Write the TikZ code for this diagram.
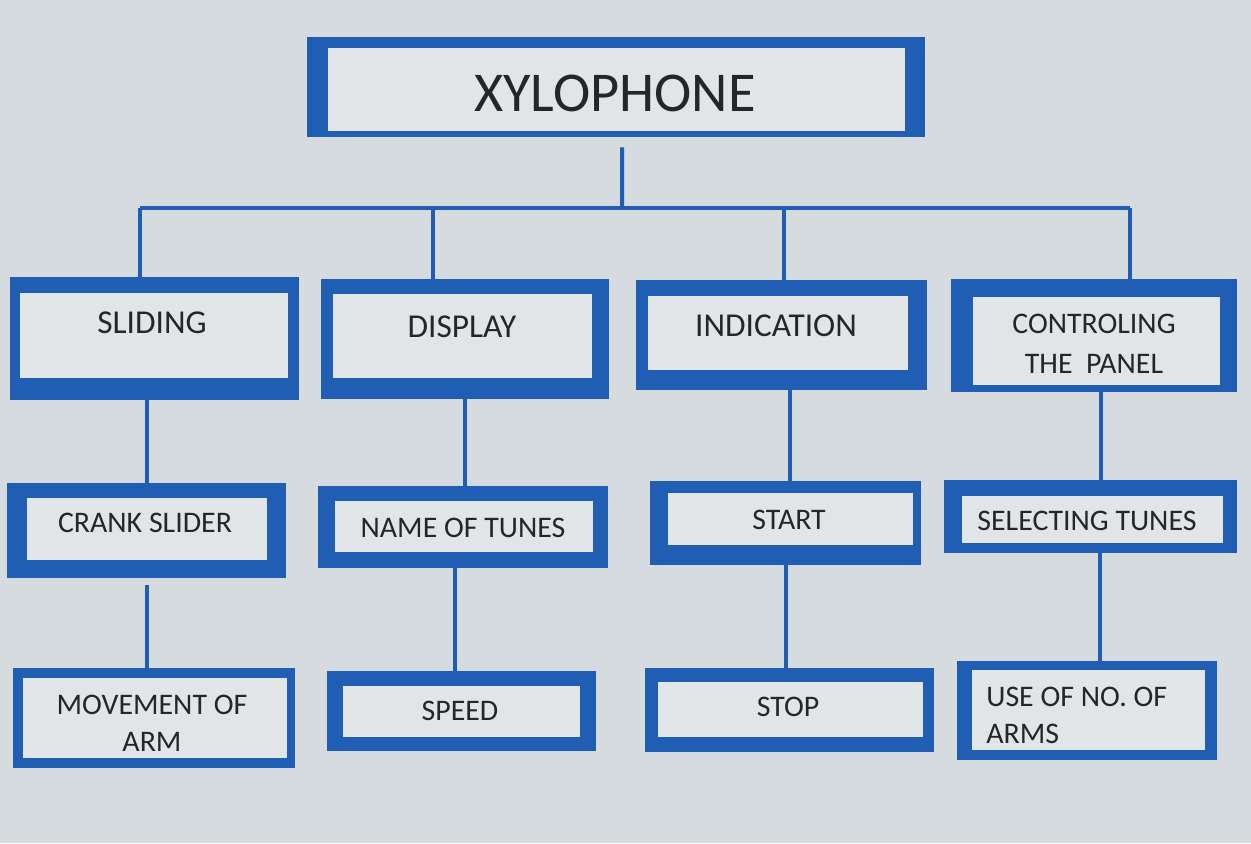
\documentclass[tikz,border=0pt]{standalone}
\usepackage{fontspec}
\setmainfont{Carlito}
\usetikzlibrary{fit}

\definecolor{boxblue}{RGB}{32,94,180}
\definecolor{screen}{RGB}{214,219,224}
\definecolor{paper}{RGB}{226,229,232}
\definecolor{ink}{RGB}{38,38,40}

\tikzset{
  outerbox/.style={fill=boxblue, inner sep=0pt},
  innerbox/.style={fill=paper, inner sep=0pt},
  lbl/.style={text=ink, inner sep=0pt, align=center},
  big/.style={font=\fontsize{19}{23}\selectfont},
  small/.style={font=\fontsize{17}{21}\selectfont},
  link/.style={draw=boxblue, line width=0.08cm},
}

% name, outer x1 y1 x2 y2, inner x1 y1 x2 y2 (pixels)
\newcommand{\chartbox}[9]{%
  \node[outerbox, fit={(#2,#3) (#4,#5)}] (#1) {};
  \node[innerbox, fit={(#6,#7) (#8,#9)}] (#1 in) {};
}

\begin{document}
\begin{tikzpicture}[x=0.02cm, y=-0.02cm]
		\fill[screen] (0,0) rectangle (1251,843);
		\useasboundingbox (0,0) rectangle (1251,843);

		% top
		\chartbox{title}{307}{37}{925}{137}{328}{48}{905}{131}
		\node[lbl, font=\fontsize{32}{37}\selectfont] (title txt) at (615,93) {XYLOPHONE};

		% first row
		\chartbox{sliding}{10}{277}{299}{400}{20}{293}{288}{378}
		\chartbox{display}{321}{279}{609}{399}{333}{294}{592}{378}
		\chartbox{indication}{636}{280}{927}{390}{648}{296}{908}{370}
		\chartbox{control}{951}{279}{1237}{392}{973}{297}{1220}{385}
		\node[lbl, big] (sliding txt) at (152,323) {SLIDING};
		\node[lbl, big] (display txt) at (462,327) {DISPLAY};
		\node[lbl, big] (indication txt) at (776,326) {INDICATION};
		\node[lbl, font=\fontsize{17}{22.7}\selectfont] (control txt) at (1094,344) {CONTROLING\\THE\ \ PANEL};

		% second row
		\chartbox{crank}{7}{483}{286}{578}{27}{498}{267}{560}
		\chartbox{tunes}{318}{486}{608}{568}{335}{501}{593}{552}
		\chartbox{start}{650}{481}{921}{565}{668}{493}{913}{545}
		\chartbox{select}{944}{480}{1237}{553}{962}{496}{1223}{543}
		\node[lbl, small] (crank txt) at (145,523) {CRANK SLIDER};
		\node[lbl, small] (tunes txt) at (463,528) {NAME OF TUNES};
		\node[lbl, small] (start txt) at (789,520) {START};
		\node[lbl, small] (select txt) at (1087,521) {SELECTING TUNES};

		% third row
		\chartbox{movement}{13}{668}{295}{768}{23}{678}{287}{758}
		\chartbox{speed}{327}{671}{596}{751}{343}{686}{580}{737}
		\chartbox{stop}{645}{668}{934}{752}{658}{682}{923}{737}
		\chartbox{arms}{957}{661}{1217}{760}{972}{670}{1205}{750}
		\node[lbl, font=\fontsize{17}{21}\selectfont] (movement txt) at (152,723.5) {MOVEMENT OF\\ARM};
		\node[lbl, small] (speed txt) at (460,711) {SPEED};
		\node[lbl, small] (stop txt) at (788,707) {STOP};
		\node[lbl, font=\fontsize{17}{21}\selectfont, align=left, anchor=west] (arms txt) at (986,715.5) {USE OF NO. OF\\ARMS};

		% bus
		\coordinate (hub) at (622,208);
		\coordinate (d1) at (140,208);
		\coordinate (d2) at (433,208);
		\coordinate (d3) at (784,208);
		\coordinate (d4) at (1130,208);
		\draw[link] ([xshift=0.12cm, yshift=-0.2cm]title.south) -- (hub);
		\draw[link] (d1) -- (d4);
		\draw[link] (d1) -- (d1 |- sliding.north);
		\draw[link] (d2) -- (d2 |- display.north);
		\draw[link] (d3) -- (d3 |- indication.north);
		\draw[link] (d4) -- (d4 |- control.north);

		% down the columns
		\draw[link] (sliding.south -| crank.north) -- (crank.north);
		\draw[link] (display.south) -- (display.south |- tunes.north);
		\draw[link] ([xshift=0.09cm]start.north |- indication.south) -- ([xshift=0.09cm]start.north);
		\draw[link] ([xshift=0.21cm]select.north |- control.south) -- ([xshift=0.21cm]select.north);

		\draw[link] ([yshift=-0.14cm]crank.south) -- (crank.south |- movement.north);
		\draw[link] ([xshift=-0.16cm]tunes.south) -- ([xshift=-0.16cm]tunes.south |- speed.north);
		\draw[link] (start.south) -- (start.south |- stop.north);
		\draw[link] ([xshift=0.19cm]select.south) -- ([xshift=0.19cm]select.south |- arms.north);
	\end{tikzpicture}
\end{document}
